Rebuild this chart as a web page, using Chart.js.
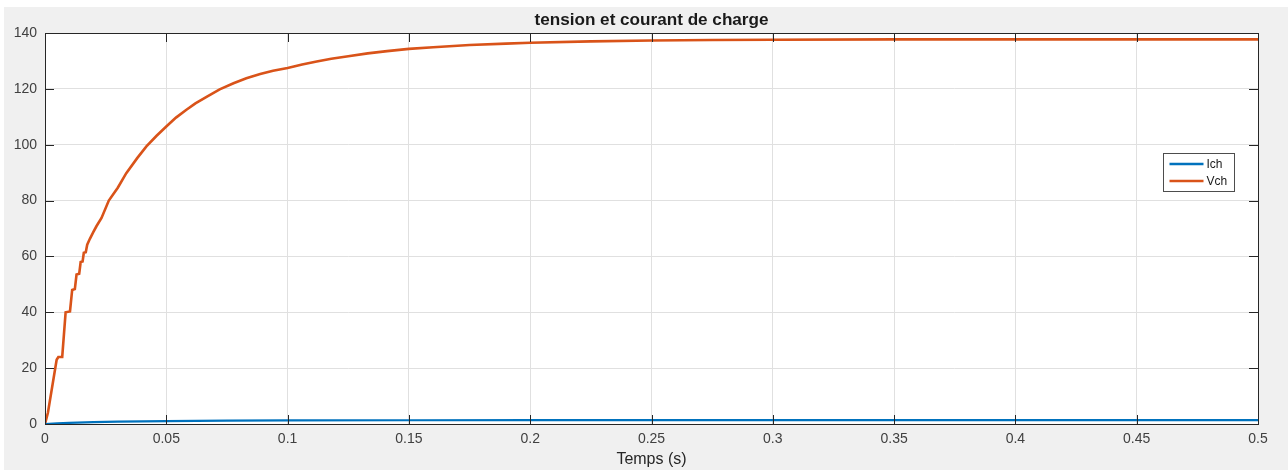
<!DOCTYPE html>
<html>
<head>
<meta charset="utf-8">
<title>tension et courant de charge</title>
<script src="https://cdn.jsdelivr.net/npm/chart.js@4/dist/chart.umd.min.js"></script>
<style>
  html, body { margin: 0; padding: 0; background: #ffffff; }
  #wrap { position: absolute; left: 4px; top: 7px; width: 1284px; height: 463px; background: #f0f0f0; }
  canvas { display: block; }
</style>
</head>
<body>
<div id="wrap"><canvas id="chart" width="1284" height="463"></canvas></div>
<script>
// charge voltage Vch (V) vs time (s)
const vchTime = [0, 0.0012, 0.0048, 0.0055, 0.0071, 0.0085, 0.0103, 0.0112, 0.0123, 0.0130,
  0.0141, 0.0147, 0.0155, 0.0160, 0.0168, 0.0174, 0.0185, 0.0199, 0.0212, 0.0233,
  0.0263, 0.030, 0.0335, 0.038, 0.0418, 0.046, 0.05, 0.054, 0.0583, 0.062,
  0.0666, 0.072, 0.0777, 0.083, 0.0887, 0.094, 0.1, 0.106, 0.112, 0.118,
  0.125, 0.133, 0.141, 0.15, 0.16, 0.175, 0.19, 0.2, 0.225, 0.25,
  0.275, 0.3, 0.35, 0.4, 0.5];
const vchValues = [0, 4, 23, 24, 24, 40, 40.3, 48, 48.3, 53.5,
  53.8, 58, 58.2, 61.3, 61.5, 64.2, 66.3, 68.7, 70.8, 73.8,
  80, 84.6, 89.8, 95.2, 99.4, 103.2, 106.5, 109.7, 112.5, 114.8,
  117.1, 119.8, 122.0, 123.8, 125.3, 126.5, 127.5, 128.7, 129.8, 130.8,
  131.7, 132.7, 133.5, 134.3, 134.9, 135.7, 136.2, 136.5, 137.0, 137.3,
  137.5, 137.6, 137.7, 137.7, 137.7];

// charge current Ich (A) vs time (s)
const ichTime = [0, 0.005, 0.01, 0.02, 0.03, 0.05, 0.075, 0.1, 0.15, 0.2, 0.3, 0.5];
const ichValues = [0, 0.24, 0.40, 0.69, 0.86, 1.06, 1.21, 1.27, 1.34, 1.36, 1.38, 1.38];

const xTicks = [0, 0.05, 0.1, 0.15, 0.2, 0.25, 0.3, 0.35, 0.4, 0.45, 0.5];
const yTicks = [0, 20, 40, 60, 80, 100, 120, 140];

const FONT = '"Liberation Sans", Arial, Helvetica, sans-serif';
const AXIS = '#262626';
const TITLE = 'tension et courant de charge';

function toPoints(ts, vs) {
  return ts.map((t, i) => ({ x: t, y: vs[i] }));
}

// white axes background, box, inward tick marks and the title over the axes
const axesBox = {
  id: 'axesBox',
  beforeDraw(chart) {
    const { ctx, chartArea: a } = chart;
    ctx.save();
    ctx.fillStyle = '#ffffff';
    ctx.fillRect(a.left, a.top, a.right - a.left, a.bottom - a.top);
    ctx.restore();
  },
  afterDatasetsDraw(chart) {
    const { ctx, chartArea: a, scales } = chart;
    const len = 9;
    ctx.save();
    ctx.strokeStyle = AXIS;
    ctx.lineWidth = 1;
    ctx.beginPath();
    xTicks.forEach(v => {
      const px = Math.round(scales.x.getPixelForValue(v)) + 0.5;
      ctx.moveTo(px, a.bottom); ctx.lineTo(px, a.bottom - len);
      ctx.moveTo(px, a.top); ctx.lineTo(px, a.top + len);
    });
    yTicks.forEach(v => {
      const py = Math.round(scales.y.getPixelForValue(v)) + 0.5;
      ctx.moveTo(a.left, py); ctx.lineTo(a.left + len, py);
      ctx.moveTo(a.right, py); ctx.lineTo(a.right - len, py);
    });
    ctx.stroke();
    ctx.strokeRect(Math.round(a.left) + 0.5, Math.round(a.top) + 0.5,
      Math.round(a.right - a.left), Math.round(a.bottom - a.top));

    // title, centred on the axes
    ctx.translate((a.left + a.right) / 2, a.top - 12);
    ctx.scale(1.07, 1);
    ctx.font = 'bold 16px ' + FONT;
    ctx.fillStyle = '#1a1a1a';
    ctx.textAlign = 'center';
    ctx.textBaseline = 'middle';
    ctx.fillText(TITLE, 0, 0);
    ctx.restore();
  }
};

// legend box inside the axes, right side
const boxLegend = {
  id: 'boxLegend',
  afterDraw(chart) {
    const { ctx, chartArea: a } = chart;
    const w = 71, h = 38;
    const left = Math.round(a.right - 95) + 0.5;
    const y = a.top + 120;
    ctx.save();
    ctx.fillStyle = '#ffffff';
    ctx.fillRect(left, y + 0.5, w, h);
    ctx.strokeStyle = '#4d4d4d';
    ctx.lineWidth = 1;
    ctx.strokeRect(left, y + 0.5, w, h);
    ctx.font = '12px ' + FONT;
    ctx.textBaseline = 'middle';
    chart.data.datasets.forEach((ds, i) => {
      const ly = y + 11 + i * 17;
      ctx.strokeStyle = ds.borderColor;
      ctx.lineWidth = 2.5;
      ctx.beginPath();
      ctx.moveTo(left + 6, ly);
      ctx.lineTo(left + 40, ly);
      ctx.stroke();
      ctx.fillStyle = '#1a1a1a';
      ctx.fillText(ds.label, left + 43, ly + 0.5);
    });
    ctx.restore();
  }
};

new Chart(document.getElementById('chart'), {
  type: 'line',
  data: {
    datasets: [
      { label: 'Ich', data: toPoints(ichTime, ichValues), borderColor: '#0072BD', borderWidth: 2.2 },
      { label: 'Vch', data: toPoints(vchTime, vchValues), borderColor: '#D95319', borderWidth: 2.6 }
    ]
  },
  options: {
    responsive: false,
    animation: false,
    parsing: false,
    elements: { point: { radius: 0 }, line: { tension: 0 } },
    layout: { padding: { left: 0, right: 30, top: 26, bottom: 0 } },
    plugins: {
      legend: { display: false },
      tooltip: { enabled: false },
      title: { display: false }
    },
    scales: {
      x: {
        type: 'linear',
        min: 0, max: 0.5,
        afterBuildTicks(scale) { scale.ticks = xTicks.map(v => ({ value: v })); },
        afterFit(scale) { scale.height = 46; },
        grid: { color: '#e0e0e0', drawTicks: false },
        border: { display: false },
        ticks: {
          color: '#404040', padding: 7,
          font: { family: FONT, size: 14 },
          callback: v => String(v)
        },
        title: {
          display: true, text: 'Temps (s)', color: AXIS,
          font: { family: FONT, size: 16 },
          padding: { top: 0, bottom: 1 }
        }
      },
      y: {
        min: 0, max: 140,
        afterBuildTicks(scale) { scale.ticks = yTicks.map(v => ({ value: v })); },
        afterFit(scale) { scale.width = 41; },
        grid: { color: '#e0e0e0', drawTicks: false },
        border: { display: false },
        ticks: {
          color: '#404040', padding: 8,
          font: { family: FONT, size: 14 },
          callback: v => String(v)
        }
      }
    }
  },
  plugins: [axesBox, boxLegend]
});
</script>
</body>
</html>
